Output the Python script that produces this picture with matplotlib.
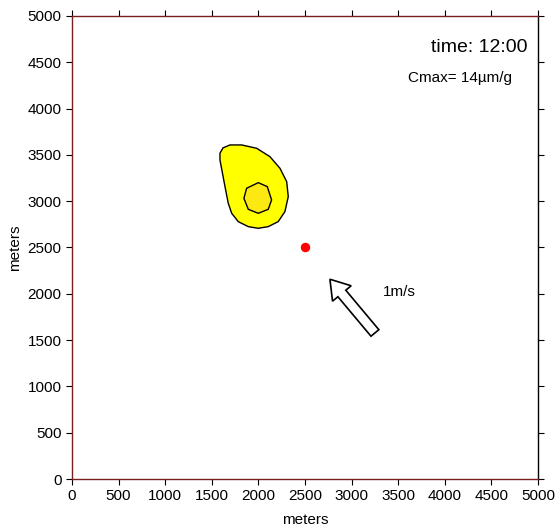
import numpy as np
import matplotlib.pyplot as plt
from matplotlib.patches import Polygon, FancyArrow

plt.rcParams['font.family'] = ['Liberation Sans', 'DejaVu Sans']

# -----------------------------------------------------------------------------

# outer concentration contour (meters)
outer_x = [1588, 1620, 1695, 1821, 1982, 2124, 2232, 2304, 2321, 2285,
           2213, 2106, 1999, 1892, 1784, 1714, 1677, 1642, 1588]
outer_y = [3517, 3575, 3607, 3607, 3571, 3481, 3355, 3211, 3049, 2887,
           2779, 2725, 2707, 2725, 2779, 2869, 2977, 3157, 3445]

# inner concentration contour (meters)
inner_x = [1999, 2096, 2142, 2106, 1999, 1892, 1845, 1874]
inner_y = [3200, 3157, 3013, 2912, 2869, 2912, 3031, 3139]

# release point
src_x = 2500
src_y = 2500

# wind arrow: tail and tip (meters)
wind_tail = (3251, 1577)
wind_tip = (2768, 2157)

ticks = np.arange(0, 5001, 500)

# -----------------------------------------------------------------------------

fig = plt.figure(figsize=(5.58, 5.28), dpi=100)
ax = fig.add_axes([0.129, 0.0928, 0.835, 0.877])

ax.add_patch(Polygon(np.column_stack([outer_x, outer_y]), closed=True,
                     fc='#ffff00', ec='black', lw=1.0))
ax.add_patch(Polygon(np.column_stack([inner_x, inner_y]), closed=True,
                     fc='#fde912', ec='black', lw=1.0))

ax.plot(src_x, src_y, 'o', color='red', ms=5.8)

dx = wind_tip[0] - wind_tail[0]
dy = wind_tip[1] - wind_tail[1]
ax.add_patch(FancyArrow(wind_tail[0], wind_tail[1], dx, dy, width=110,
                        head_width=260, head_length=200,
                        length_includes_head=True,
                        fc='white', ec='black', lw=1.2))

ax.text(3337, 2023, '1m/s', fontsize=11, va='center', ha='left')
ax.text(4893, 4654, 'time: 12:00', fontsize=14, va='center', ha='right')
ax.text(4721, 4330, 'Cmax= 14\u00b5m/g', fontsize=11, va='center', ha='right')

ax.set_xlim(0, 5000)
ax.set_ylim(0, 5000)
ax.set_xticks(ticks)
ax.set_yticks(ticks)
ax.tick_params(direction='out', length=4, width=0.8, labelsize=11,
               top=True, right=True, colors='black')

for side in ['left', 'bottom', 'top']:
    ax.spines[side].set_color('#7a1f1f')
ax.spines['right'].set_color('black')
for s in ax.spines.values():
    s.set_linewidth(1.0)

ax.set_xlabel('meters', fontsize=11, labelpad=7)
ax.set_ylabel('meters', fontsize=11)

fig.savefig('out.png', dpi=100)
